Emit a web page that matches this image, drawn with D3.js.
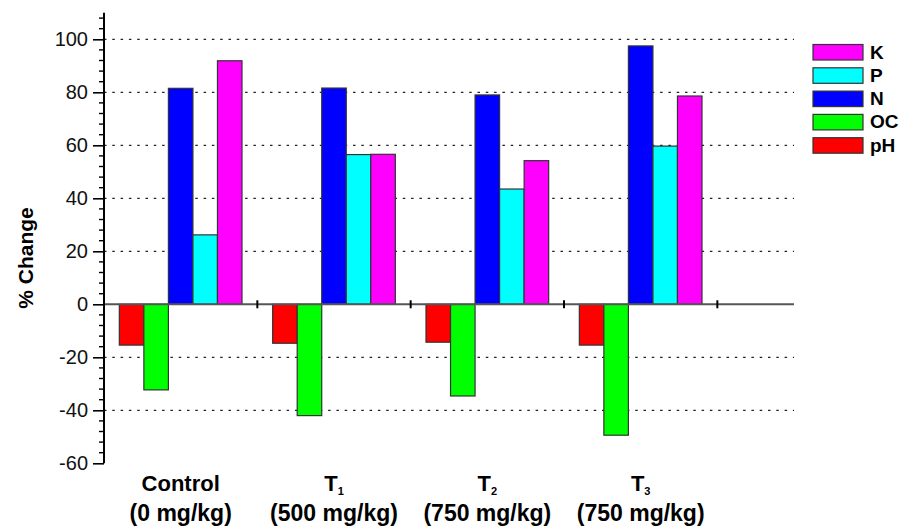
<!DOCTYPE html>
<meta charset="utf-8">
<title>% Change</title>
<script src="https://d3js.org/d3.v7.min.js"></script>
<style>
  body { margin: 0; background: #fff; }
  text { font-family: "Liberation Sans", Arial, sans-serif; }
</style>
<body>
<script>

// data
const groups = ["Control", "T1", "T2", "T3"];
const doses = ["(0 mg/kg)", "(500 mg/kg)", "(750 mg/kg)", "(750 mg/kg)"];
const series = ["pH", "OC", "N", "P", "K"];
const pH = [-15.4, -14.7, -14.3, -15.4];
const OC = [-32.3, -42.0, -34.6, -49.4];
const N  = [81.5, 81.6, 79.0, 97.5];
const P  = [26.2, 56.5, 43.5, 59.7];
const K  = [91.9, 56.6, 54.2, 78.6];
const yTicks = [-60, -40, -20, 0, 20, 40, 60, 80, 100];

const colors = { pH: "#ff0000", OC: "#00ff00", N: "#0000ff", P: "#00ffff", K: "#ff00ff" };
const values = { pH, OC, N, P, K };

const width = 902, height = 527;

const svg = d3.select("body").append("svg")
  .attr("width", width)
  .attr("height", height);

// scales
const x = d3.scaleLinear().domain([0, 4.5]).range([104, 794]);
const y = d3.scaleLinear().domain([-60, 110]).range([463.3, 12.8]);
const inner = d3.scaleBand().domain(series).range([-0.4, 0.4]);

// dotted grid
svg.append("g")
  .selectAll("line")
  .data(yTicks.filter(d => d !== 0 && d !== -60))
  .join("line")
  .attr("x1", x(0)).attr("x2", x(4.5))
  .attr("y1", d => y(d)).attr("y2", d => y(d))
  .attr("stroke", "#222")
  .attr("stroke-width", 1.2)
  .attr("stroke-dasharray", "2.5,5.8");

// bars
const rows = [];
series.forEach(s => groups.forEach((g, i) => rows.push({ s, i, v: values[s][i] })));

svg.append("g")
  .selectAll("rect")
  .data(rows)
  .join("rect")
  .attr("x", d => x(d.i + 0.5 + inner(d.s)))
  .attr("width", d => x(inner.bandwidth()) - x(0))
  .attr("y", d => y(Math.max(0, d.v)))
  .attr("height", d => Math.abs(y(d.v) - y(0)))
  .attr("fill", d => colors[d.s])
  .attr("stroke", "#333")
  .attr("stroke-width", 1.2);

// zero line with group ticks
svg.append("line")
  .attr("x1", x(0)).attr("x2", x(4.5))
  .attr("y1", y(0)).attr("y2", y(0))
  .attr("stroke", "#555")
  .attr("stroke-width", 2);

svg.append("g")
  .selectAll("line")
  .data([1, 2, 3, 4])
  .join("line")
  .attr("x1", d => x(d)).attr("x2", d => x(d))
  .attr("y1", y(0) - 4).attr("y2", y(0) + 4)
  .attr("stroke", "#000")
  .attr("stroke-width", 2);

// y axis
const yAxis = svg.append("g")
  .attr("transform", `translate(${x(0)},0)`)
  .call(d3.axisLeft(y).tickValues(yTicks).tickSize(11).tickPadding(5)
    .tickFormat(d => String(d)));
yAxis.select(".domain").attr("stroke", "#000").attr("stroke-width", 2)
  .attr("d", `M0,${y(110)}V${y(-60)}`);
yAxis.selectAll(".tick line").attr("stroke", "#000").attr("stroke-width", 1.6);
yAxis.selectAll(".tick text")
  .attr("font-size", 20)
  .attr("fill", "#111")
  .style("font-family", "'Liberation Sans', Arial, sans-serif");

// minor ticks
svg.append("g")
  .selectAll("line")
  .data(d3.range(-56, 110, 4).filter(d => d % 20 !== 0))
  .join("line")
  .attr("x1", x(0) - 5).attr("x2", x(0))
  .attr("y1", d => y(d)).attr("y2", d => y(d))
  .attr("stroke", "#000")
  .attr("stroke-width", 1.4);

// y label
svg.append("text")
  .attr("transform", `translate(33,258) rotate(-90)`)
  .attr("text-anchor", "middle")
  .attr("font-size", 21)
  .attr("font-weight", "bold")
  .text("% Change");

// x labels
const xl = svg.append("g").selectAll("g")
  .data(groups)
  .join("g")
  .attr("transform", (d, i) => `translate(${x(i + 0.5)},0)`);

xl.append("text")
  .attr("y", 491)
  .attr("text-anchor", "middle")
  .attr("font-size", 22)
  .attr("font-weight", "bold")
  .each(function(d) {
    const t = d3.select(this);
    if (d === "Control") { t.text(d); return; }
    t.append("tspan").text(d[0]);
    t.append("tspan").attr("font-size", 11).attr("dy", 4).text(d.slice(1));
  });

xl.append("text")
  .attr("y", 521)
  .attr("text-anchor", "middle")
  .attr("font-size", 23)
  .attr("font-weight", "bold")
  .text((d, i) => doses[i]);

// legend
const legendOrder = ["K", "P", "N", "OC", "pH"];
const lg = svg.append("g").selectAll("g")
  .data(legendOrder)
  .join("g")
  .attr("transform", (d, i) => `translate(813,${44.5 + i * 23.3})`);

lg.append("rect")
  .attr("width", 50).attr("height", 15.5)
  .attr("fill", d => colors[d])
  .attr("stroke", "#333")
  .attr("stroke-width", 1.2);

lg.append("text")
  .attr("x", 57).attr("y", 14)
  .attr("font-size", 19)
  .attr("font-weight", "bold")
  .text(d => d);

</script>
</body>
